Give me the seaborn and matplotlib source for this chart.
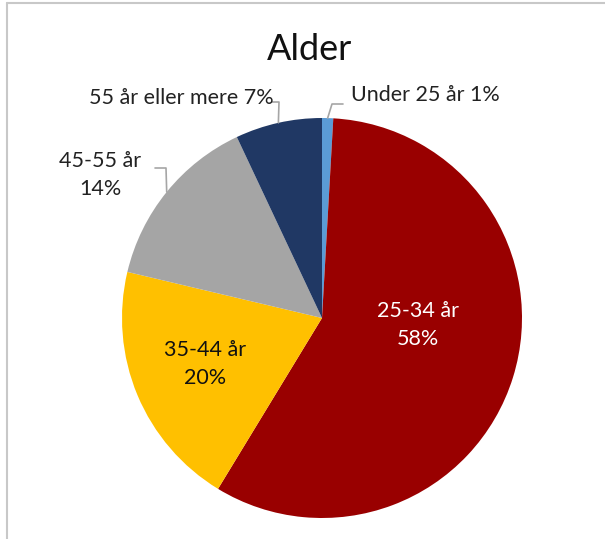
import matplotlib.pyplot as plt
import seaborn as sns
import numpy as np
from matplotlib.lines import Line2D

# Data
categories = ['Under 25 år', '25-34 år', '35-44 år', '45-55 år', '55 år eller mere']
values = [0.9, 57.8, 20.0, 14.3, 7.0]
colors = ['#5B9BD5', '#990000', '#FFC000', '#A5A5A5', '#203864']

sns.set_theme(style='white')
plt.rcParams['font.family'] = ['Lato', 'DejaVu Sans']

W, H = 605, 539
fig = plt.figure(figsize=(W / 100, H / 100), dpi=100)
ax = fig.add_axes([0, 0, 1, 1])


def Y(y):
    # pixel row (top-down) to axes y
    return H - y


cx, cy, r = 322, 318, 200
wedges, _ = ax.pie(values, colors=colors, startangle=90, counterclock=False,
                   center=(cx, Y(cy)), radius=r, frame=True,
                   wedgeprops=dict(linewidth=0))
ax.set_xlim(0, W)
ax.set_ylim(0, H)
ax.set_aspect('equal')
ax.axis('off')

pct = [f'{round(v)}%' for v in values]


def edge_point(w):
    a = np.deg2rad((w.theta1 + w.theta2) / 2)
    return cx + r * np.cos(a), Y(cy) + r * np.sin(a)


fs = 15.5
lc = '#A6A6A6'
# Under 25
x0, y0 = edge_point(wedges[0])
ax.add_line(Line2D([x0, 332, 343], [y0, Y(104), Y(104)], color=lc, lw=1.2))
ax.text(351, Y(95), f'{categories[0]} {pct[0]}', fontsize=fs, ha='left', va='center', color='#222222')

# 55 år eller mere
x0, y0 = edge_point(wedges[4])
ax.add_line(Line2D([x0, 279, 272], [y0, Y(102), Y(102)], color=lc, lw=1.2))
ax.text(274, Y(98), f'{categories[4]} {pct[4]}', fontsize=fs, ha='right', va='center', color='#222222')

# 45-55 år
x0, y0 = edge_point(wedges[3])
ax.add_line(Line2D([x0, 166, 155], [y0, Y(168), Y(168)], color=lc, lw=1.2))
ax.text(100, Y(175), f'{categories[3]}\n{pct[3]}', fontsize=fs, ha='center', va='center',
        color='#222222', linespacing=1.55)

# inside labels
ax.text(418, Y(325), f'{categories[1]}\n{pct[1]}', fontsize=fs, ha='center', va='center',
        color='white', linespacing=1.55)
ax.text(205, Y(364), f'{categories[2]}\n{pct[2]}', fontsize=fs, ha='center', va='center',
        color='#111111', linespacing=1.55)

ax.text(310, Y(50), 'Alder', fontsize=26, ha='center', va='center', color='#111111')

# chart border (left and top visible)
fig.add_artist(Line2D([6.5 / W, 6.5 / W], [0, 1 - 2.5 / H], transform=fig.transFigure, color='#C8C8C8', lw=1.5))
fig.add_artist(Line2D([6.5 / W, 1], [1 - 2.5 / H, 1 - 2.5 / H], transform=fig.transFigure, color='#C8C8C8', lw=1.5))

fig.savefig('out.png', dpi=100)
